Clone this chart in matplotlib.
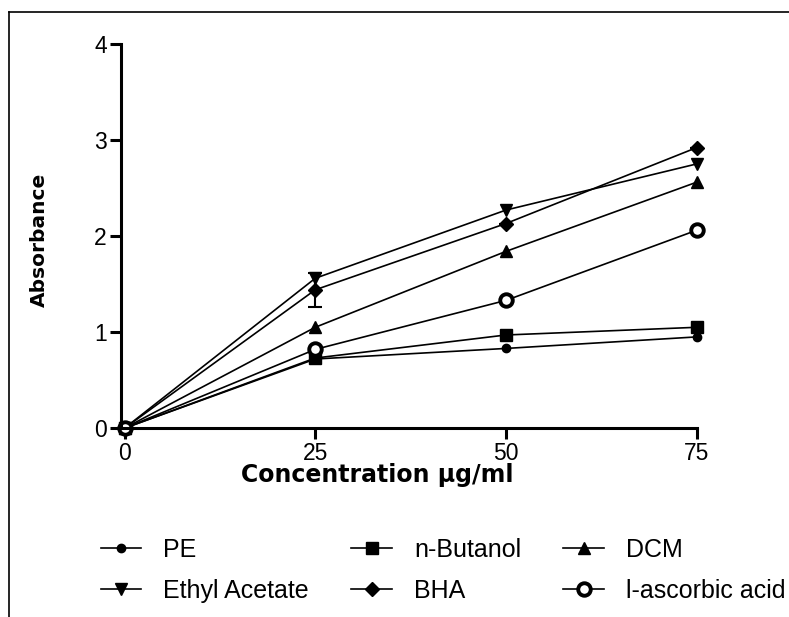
import numpy as np
import matplotlib.pyplot as plt
from matplotlib.lines import Line2D

# concentration (ug/ml)
conc = [0, 25, 50, 75]

pe = [0, 0.72, 0.83, 0.95]
butanol = [0, 0.73, 0.97, 1.05]
dcm = [0, 1.05, 1.84, 2.56]
ethyl = [0, 1.56, 2.27, 2.75]
bha = [0, 1.44, 2.13, 2.92]
bha_err = [0, 0.18, 0, 0]
ascorbic = [0, 0.82, 1.33, 2.06]

plt.rcParams['font.family'] = ['Liberation Sans', 'DejaVu Sans']

fig = plt.figure(figsize=(7.89, 6.17), dpi=100)
ax = fig.add_axes([0.153, 0.306, 0.730, 0.623])

lw = 1.2
k = dict(color='black', lw=lw, clip_on=False)
l_pe, = ax.plot(conc, pe, '-o', ms=6, label='PE', **k)
l_bu, = ax.plot(conc, butanol, '-s', ms=8.5, label='n-Butanol', **k)
l_dcm, = ax.plot(conc, dcm, '-^', ms=9, label='DCM', **k)
l_ea, = ax.plot(conc, ethyl, '-v', ms=9, label='Ethyl Acetate', **k)
ax.errorbar(conc, bha, yerr=bha_err, fmt='none', ecolor='black',
            capsize=5, elinewidth=1.5, capthick=1.5)
l_bha, = ax.plot(conc, bha, '-D', ms=7.5, label='BHA', **k)
l_asc, = ax.plot(conc, ascorbic, '-o', mfc='white', mew=2.8, ms=9,
                 label='l-ascorbic acid', **k)

ax.set_xlim(-0.5, 75)
ax.set_ylim(0, 4)
ax.set_xticks([0, 25, 50, 75])
ax.set_yticks([0, 1, 2, 3, 4])
ax.spines['top'].set_visible(False)
ax.spines['right'].set_visible(False)
for s in ['left', 'bottom']:
    ax.spines[s].set_linewidth(2.2)
ax.tick_params(width=2.2, length=8, labelsize=16.5, pad=2)

ax.set_xlabel('Concentration μg/ml', fontsize=17, fontweight='bold',
              family=['DejaVu Sans'], va='top')
ax.xaxis.set_label_coords(0.446, -0.091)
ax.set_ylabel('Absorbance', fontsize=14.5, fontweight='bold',
              family=['DejaVu Sans'])
ax.yaxis.set_label_coords(-0.125, 0.49)

hs = [l_pe, l_ea, l_bu, l_bha, l_dcm, l_asc]
fig.legend(hs, [h.get_label() for h in hs], ncol=3,
           loc='upper left', bbox_to_anchor=(0.115, 0.145), frameon=False,
           fontsize=18, handlelength=1.62, handletextpad=0.88,
           columnspacing=1.7, labelspacing=0.7, borderaxespad=0)

# partial frame (left and top)
fig.add_artist(Line2D([0.0114, 0.0114], [0, 0.981], color='black', lw=1.2))
fig.add_artist(Line2D([0.0114, 1.0], [0.981, 0.981], color='black', lw=1.2))

fig.savefig('out.png', dpi=100)
